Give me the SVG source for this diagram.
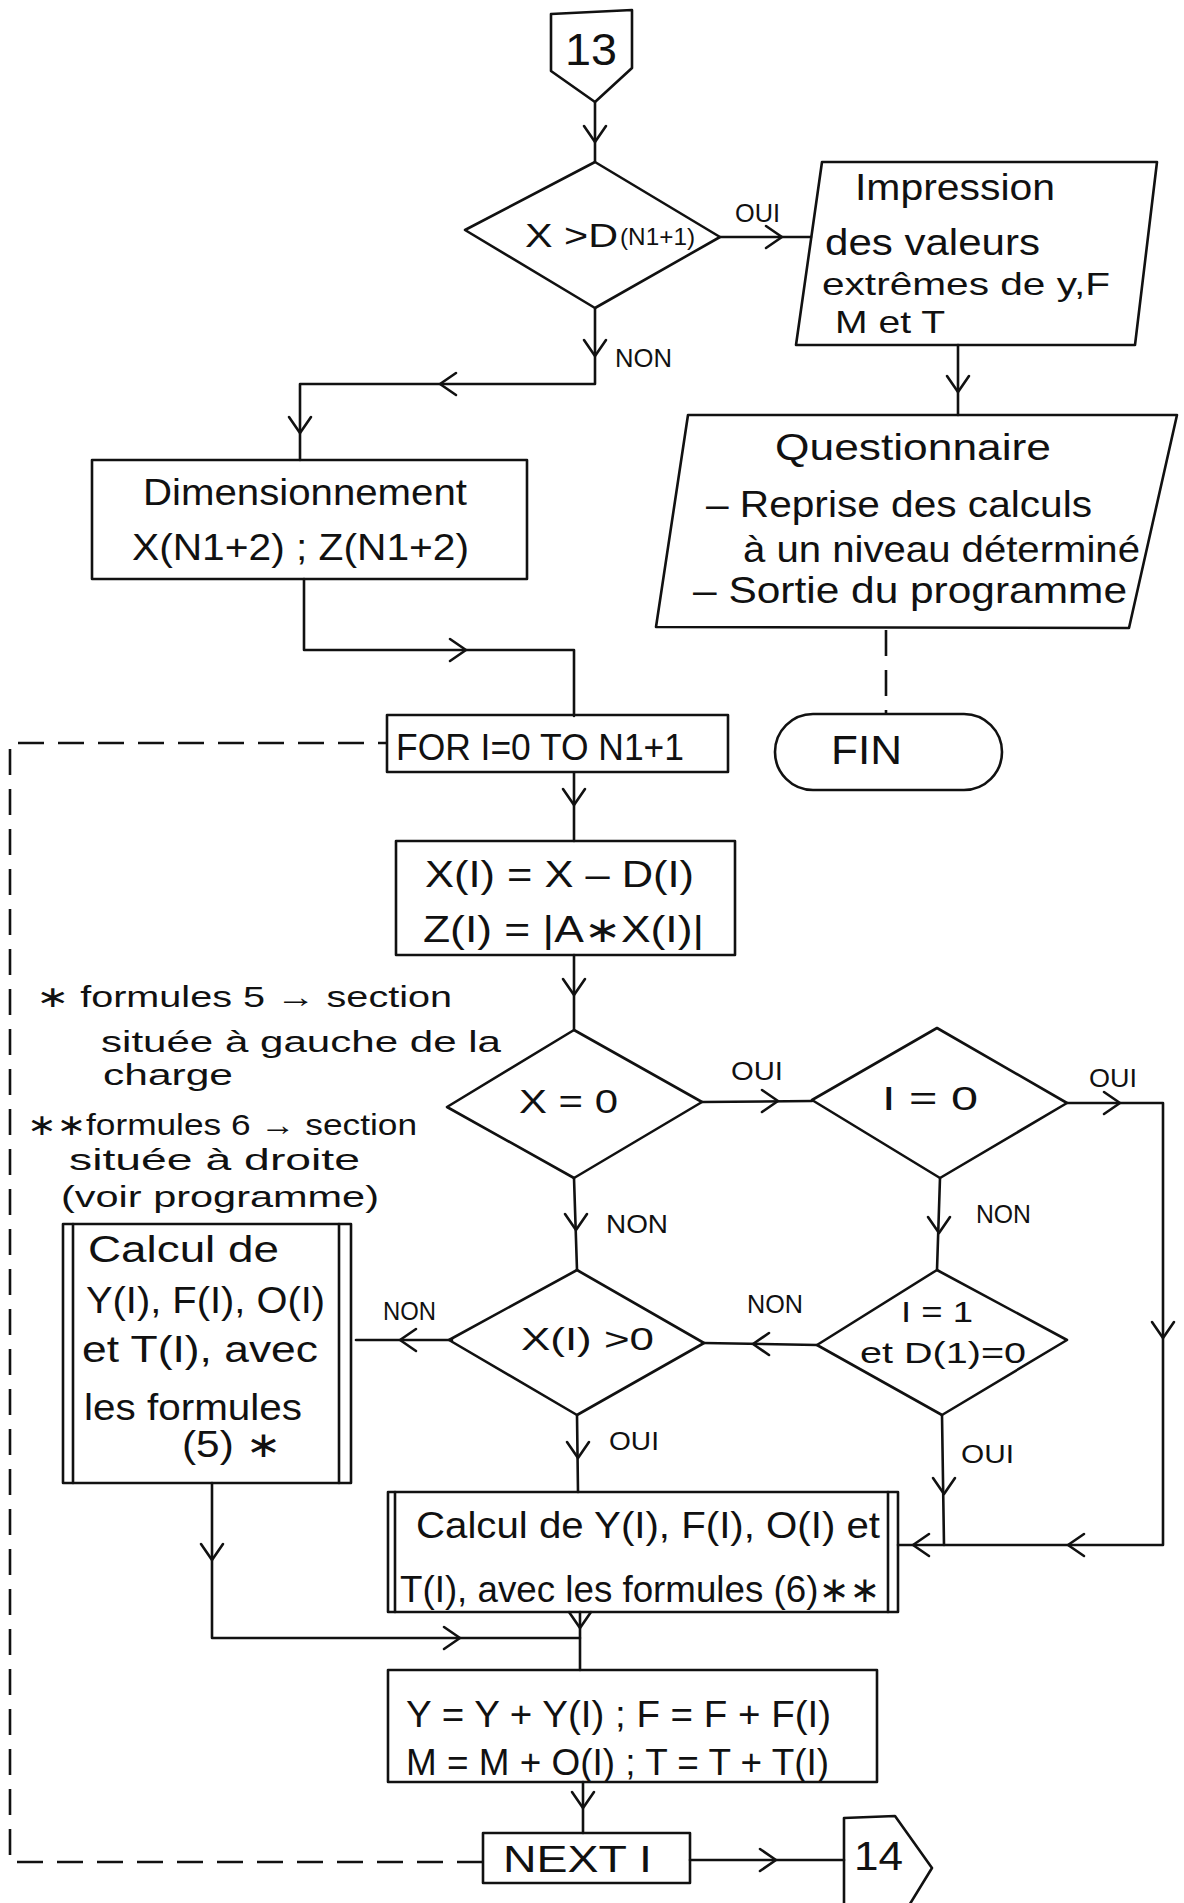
<svg xmlns="http://www.w3.org/2000/svg" xmlns:xlink="http://www.w3.org/1999/xlink" width="1184" height="1903" viewBox="0 0 1184 1903">
  <style>
    .shape { fill: none; stroke: #111; stroke-width: 2.6; stroke-linejoin: round; }
    .line { fill: none; stroke: #111; stroke-width: 2.6; stroke-linecap: round; stroke-linejoin: round; }
    .dash { fill: none; stroke: #111; stroke-width: 2.6; stroke-dasharray: 26 14; }
    .head { fill: none; stroke: #111; stroke-width: 2.6; stroke-linecap: round; stroke-linejoin: round; }
    text { font-family: "Liberation Sans", "DejaVu Sans", sans-serif; fill: #111; }
    .t { font-size: 36px; }
    .n { font-size: 30px; }
    .lbl { font-size: 26px; }
  </style>
  <defs>
    <!-- open chevron, tip at origin, pointing along +x -->
    <path id="ah" class="head" d="M-16,-11 L0,0 L-16,11"/>
  </defs>
  <rect width="1184" height="1903" fill="#fff"/>

  <g id="connectors">
    <path class="line" d="M595,102 L595,162"/>
    <use xlink:href="#ah" transform="translate(595,142) rotate(90)"/>

    <path class="line" d="M720,237 L811,237"/>
    <use xlink:href="#ah" transform="translate(782,237)"/>

    <path class="line" d="M958,345 L958,415"/>
    <use xlink:href="#ah" transform="translate(958,392) rotate(90)"/>

    <path class="dash" d="M886,630 L886,713"/>

    <path class="line" d="M595,308 L595,384 L300,384 L300,460"/>
    <use xlink:href="#ah" transform="translate(595,356) rotate(90)"/>
    <use xlink:href="#ah" transform="translate(440,384) rotate(180)"/>
    <use xlink:href="#ah" transform="translate(300,433) rotate(90)"/>

    <path class="line" d="M304,579 L304,650 L574,650 L574,716"/>
    <use xlink:href="#ah" transform="translate(466,650)"/>

    <path class="line" d="M574,773 L574,841"/>
    <use xlink:href="#ah" transform="translate(574,805) rotate(90)"/>

    <path class="line" d="M574,955 L574,1030"/>
    <use xlink:href="#ah" transform="translate(574,995) rotate(90)"/>

    <path class="line" d="M702,1102 L812,1101"/>
    <use xlink:href="#ah" transform="translate(778,1101)"/>

    <path class="line" d="M1067,1103 L1163,1103 L1163,1545 L898,1545"/>
    <use xlink:href="#ah" transform="translate(1120,1103)"/>
    <use xlink:href="#ah" transform="translate(1163,1338) rotate(90)"/>
    <use xlink:href="#ah" transform="translate(1068,1545) rotate(180)"/>
    <use xlink:href="#ah" transform="translate(913,1545) rotate(180)"/>

    <path class="line" d="M574,1178 L577,1270"/>
    <use xlink:href="#ah" transform="translate(576,1230) rotate(90)"/>

    <path class="line" d="M940,1178 L937,1270"/>
    <use xlink:href="#ah" transform="translate(939,1233) rotate(90)"/>

    <path class="line" d="M817,1345 L704,1343"/>
    <use xlink:href="#ah" transform="translate(753,1344) rotate(180)"/>

    <path class="line" d="M452,1340 L356,1340"/>
    <use xlink:href="#ah" transform="translate(400,1340) rotate(180)"/>

    <path class="line" d="M577,1415 L578,1492"/>
    <use xlink:href="#ah" transform="translate(578,1458) rotate(90)"/>

    <path class="line" d="M942,1415 L944,1545"/>
    <use xlink:href="#ah" transform="translate(944,1494) rotate(90)"/>

    <path class="line" d="M212,1483 L212,1638 L580,1638"/>
    <use xlink:href="#ah" transform="translate(212,1560) rotate(90)"/>
    <use xlink:href="#ah" transform="translate(460,1638)"/>

    <path class="line" d="M580,1612 L580,1670"/>
    <use xlink:href="#ah" transform="translate(580,1628) rotate(90)"/>

    <path class="line" d="M583,1782 L583,1833"/>
    <use xlink:href="#ah" transform="translate(583,1808) rotate(90)"/>

    <path class="line" d="M690,1860 L844,1860"/>
    <use xlink:href="#ah" transform="translate(776,1860)"/>

    <!-- loop return NEXT I -> FOR -->
    <path class="dash" d="M483,1862 L10,1862 L10,743 L387,743"/>

    <!-- branch labels -->
    <text class="lbl" x="735" y="222" textLength="45" lengthAdjust="spacingAndGlyphs">OUI</text>
    <text class="lbl" x="615" y="367" textLength="57" lengthAdjust="spacingAndGlyphs">NON</text>
    <text class="lbl" x="731" y="1080" textLength="52" lengthAdjust="spacingAndGlyphs">OUI</text>
    <text class="lbl" x="1089" y="1087" textLength="48" lengthAdjust="spacingAndGlyphs">OUI</text>
    <text class="lbl" x="606" y="1233" textLength="62" lengthAdjust="spacingAndGlyphs">NON</text>
    <text class="lbl" x="976" y="1223" textLength="55" lengthAdjust="spacingAndGlyphs">NON</text>
    <text class="lbl" x="747" y="1313" textLength="56" lengthAdjust="spacingAndGlyphs">NON</text>
    <text class="lbl" x="383" y="1320" textLength="53" lengthAdjust="spacingAndGlyphs">NON</text>
    <text class="lbl" x="609" y="1450" textLength="50" lengthAdjust="spacingAndGlyphs">OUI</text>
    <text class="lbl" x="961" y="1463" textLength="53" lengthAdjust="spacingAndGlyphs">OUI</text>
  </g>

  <g id="conn-13">
    <polygon class="shape" points="551,14 632,10 632,68 595,102 551,71"/>
    <text x="565" y="65" font-size="44" textLength="52" lengthAdjust="spacingAndGlyphs">13</text>
  </g>

  <g id="test-x-dn1">
    <polygon class="shape" points="595,162 720,237 595,308 465,230"/>
    <text x="525" y="247" font-size="34" textLength="93" lengthAdjust="spacingAndGlyphs">X &gt;D</text>
    <text x="620" y="245" font-size="24" textLength="75" lengthAdjust="spacingAndGlyphs">(N1+1)</text>
  </g>

  <g id="impression">
    <polygon class="shape" points="822,162 1157,162 1135,345 796,345"/>
    <text class="t" x="855" y="200" textLength="200" lengthAdjust="spacingAndGlyphs">Impression</text>
    <text class="t" x="825" y="255" textLength="215" lengthAdjust="spacingAndGlyphs">des valeurs</text>
    <text x="822" y="295" font-size="32" textLength="288" lengthAdjust="spacingAndGlyphs">extrêmes de y,F</text>
    <text x="835" y="333" font-size="32" textLength="110" lengthAdjust="spacingAndGlyphs">M et T</text>
  </g>

  <g id="questionnaire">
    <polygon class="shape" points="688,415 1177,415 1129,628 656,627"/>
    <text class="t" x="775" y="460" textLength="276" lengthAdjust="spacingAndGlyphs">Questionnaire</text>
    <text class="t" x="706" y="517" textLength="386" lengthAdjust="spacingAndGlyphs">– Reprise des calculs</text>
    <text class="t" x="743" y="562" textLength="397" lengthAdjust="spacingAndGlyphs">à un niveau déterminé</text>
    <text class="t" x="693" y="603" textLength="434" lengthAdjust="spacingAndGlyphs">– Sortie du programme</text>
  </g>

  <g id="fin">
    <rect class="shape" x="775" y="714" width="227" height="76" rx="38" ry="38"/>
    <text x="831" y="764" font-size="40" textLength="71" lengthAdjust="spacingAndGlyphs">FIN</text>
  </g>

  <g id="dimensionnement">
    <rect class="shape" x="92" y="460" width="435" height="119"/>
    <text class="t" x="143" y="505" textLength="324" lengthAdjust="spacingAndGlyphs">Dimensionnement</text>
    <text class="t" x="132" y="560" textLength="337" lengthAdjust="spacingAndGlyphs">X(N1+2) ; Z(N1+2)</text>
  </g>

  <g id="for-loop">
    <rect class="shape" x="387" y="715" width="341" height="57"/>
    <text class="t" x="396" y="760" textLength="288" lengthAdjust="spacingAndGlyphs">FOR I=0 TO N1+1</text>
  </g>

  <g id="init-xz">
    <rect class="shape" x="396" y="841" width="339" height="114"/>
    <text class="t" x="425" y="887" textLength="269" lengthAdjust="spacingAndGlyphs">X(I) = X – D(I)</text>
    <text class="t" x="423" y="942" textLength="281" lengthAdjust="spacingAndGlyphs">Z(I) = |A∗X(I)|</text>
  </g>

  <g id="notes">
    <text class="n" x="36" y="1007" textLength="416" lengthAdjust="spacingAndGlyphs">∗ formules 5 → section</text>
    <text class="n" x="101" y="1052" textLength="400" lengthAdjust="spacingAndGlyphs">située à gauche de la</text>
    <text class="n" x="103" y="1085" textLength="130" lengthAdjust="spacingAndGlyphs">charge</text>
    <text class="n" x="27" y="1135" textLength="390" lengthAdjust="spacingAndGlyphs">∗∗formules 6 → section</text>
    <text class="n" x="69" y="1170" textLength="291" lengthAdjust="spacingAndGlyphs">située à droite</text>
    <text class="n" x="61" y="1207" textLength="318" lengthAdjust="spacingAndGlyphs">(voir programme)</text>
  </g>

  <g id="test-x0">
    <polygon class="shape" points="574,1030 702,1102 574,1178 447,1107"/>
    <text x="519" y="1113" font-size="34" textLength="99" lengthAdjust="spacingAndGlyphs">X = 0</text>
  </g>

  <g id="test-i0">
    <polygon class="shape" points="937,1028 1067,1103 940,1178 812,1100"/>
    <text x="882" y="1110" font-size="34" textLength="96" lengthAdjust="spacingAndGlyphs">I = 0</text>
  </g>

  <g id="test-xi-pos">
    <polygon class="shape" points="577,1270 704,1343 577,1415 449,1340"/>
    <text x="521" y="1350" font-size="32" textLength="133" lengthAdjust="spacingAndGlyphs">X(I) &gt;0</text>
  </g>

  <g id="test-i1">
    <polygon class="shape" points="937,1270 1067,1340 942,1415 817,1345"/>
    <text x="901" y="1322" font-size="30" textLength="72" lengthAdjust="spacingAndGlyphs">I = 1</text>
    <text x="860" y="1363" font-size="30" textLength="166" lengthAdjust="spacingAndGlyphs">et D(1)=0</text>
  </g>

  <g id="calc-left">
    <rect class="shape" x="63" y="1224" width="288" height="259"/>
    <path class="line" d="M73,1224 L73,1483 M339,1224 L339,1483"/>
    <text class="t" x="88" y="1262" textLength="191" lengthAdjust="spacingAndGlyphs">Calcul de</text>
    <text class="t" x="86" y="1313" textLength="239" lengthAdjust="spacingAndGlyphs">Y(I), F(I), O(I)</text>
    <text class="t" x="82" y="1362" textLength="236" lengthAdjust="spacingAndGlyphs">et T(I), avec</text>
    <text class="t" x="84" y="1420" textLength="218" lengthAdjust="spacingAndGlyphs">les formules</text>
    <text class="t" x="182" y="1457" textLength="99" lengthAdjust="spacingAndGlyphs">(5) ∗</text>
  </g>

  <g id="calc-right">
    <rect class="shape" x="388" y="1492" width="510" height="120"/>
    <path class="line" d="M395,1492 L395,1612 M888,1492 L888,1612"/>
    <text class="t" x="416" y="1538" textLength="464" lengthAdjust="spacingAndGlyphs">Calcul de Y(I), F(I), O(I) et</text>
    <text class="t" x="400" y="1602" textLength="480" lengthAdjust="spacingAndGlyphs">T(I), avec les formules (6)∗∗</text>
  </g>

  <g id="sums">
    <rect class="shape" x="388" y="1670" width="489" height="112"/>
    <text class="t" x="406" y="1727" textLength="425" lengthAdjust="spacingAndGlyphs">Y = Y + Y(I) ; F = F + F(I)</text>
    <text class="t" x="406" y="1775" textLength="423" lengthAdjust="spacingAndGlyphs">M = M + O(I) ; T = T + T(I)</text>
  </g>

  <g id="next-i">
    <rect class="shape" x="483" y="1833" width="207" height="50"/>
    <text class="t" x="503" y="1872" textLength="149" lengthAdjust="spacingAndGlyphs">NEXT I</text>
  </g>

  <g id="conn-14">
    <polygon class="shape" points="844,1818 895,1816 932,1868 897,1925 844,1925"/>
    <text x="854" y="1870" font-size="40" textLength="49" lengthAdjust="spacingAndGlyphs">14</text>
  </g>
</svg>
